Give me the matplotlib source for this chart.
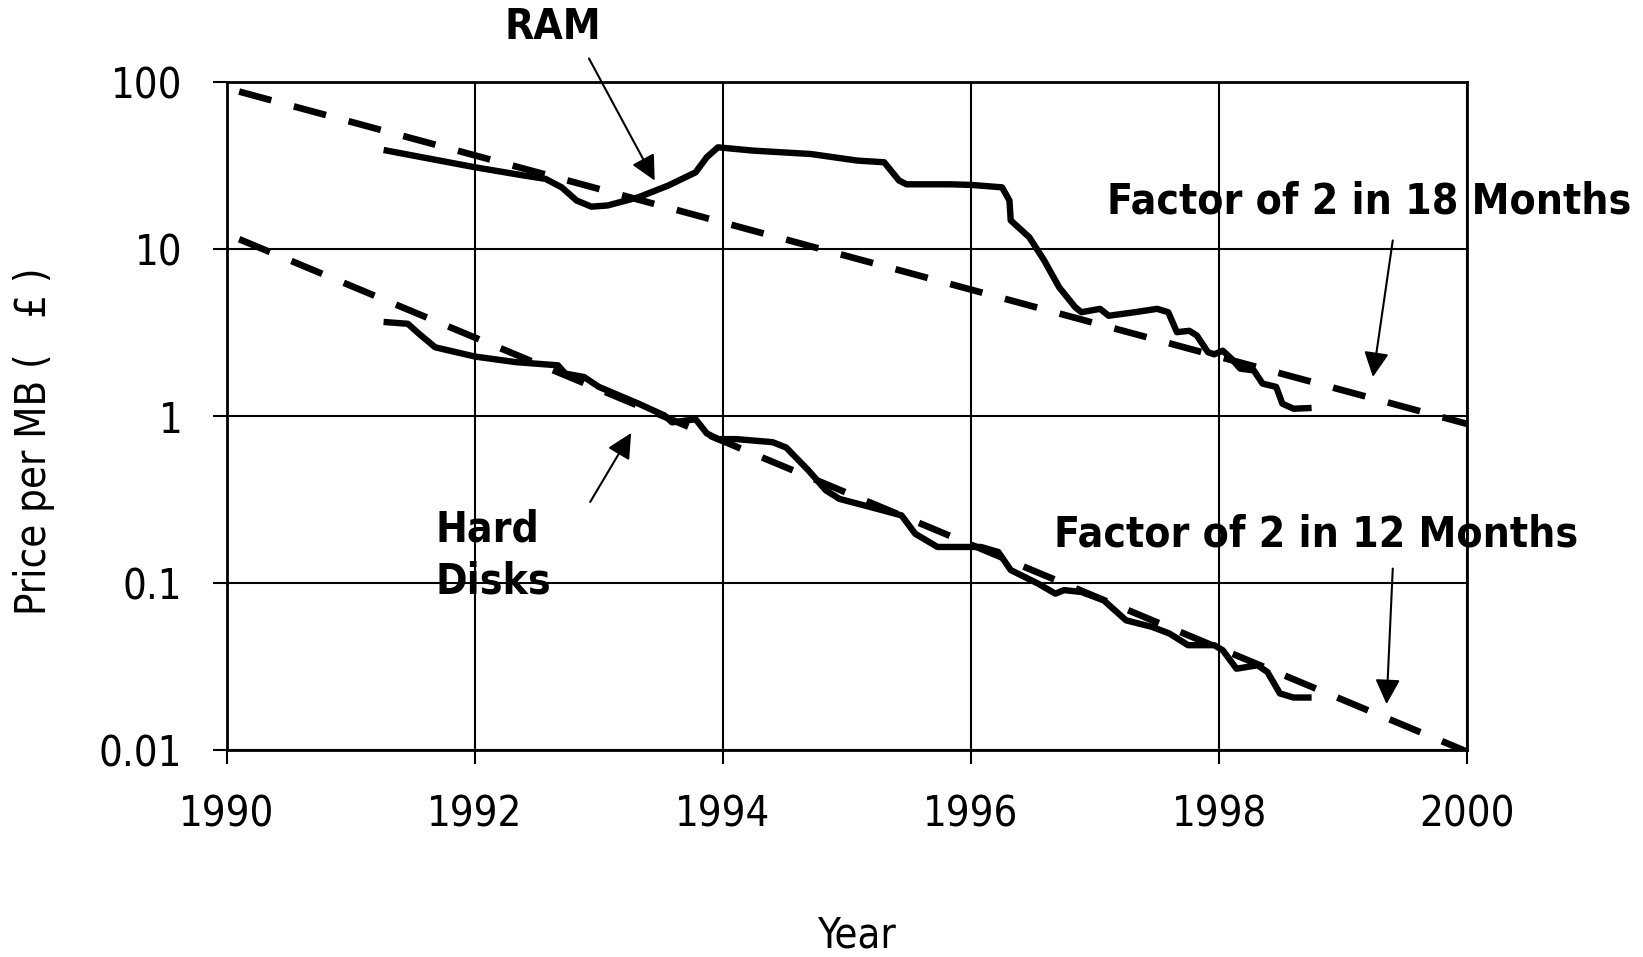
import matplotlib
matplotlib.use("Agg")
import matplotlib.pyplot as plt

# RAM price per MB (GBP)
ram_years = [1991.29, 1992.0, 1992.39, 1992.57, 1992.7, 1992.82, 1992.94, 1993.07,
             1993.32, 1993.56, 1993.78, 1993.87, 1993.96, 1994.24, 1994.71, 1995.08,
             1995.3, 1995.42, 1995.48, 1995.83, 1996.0, 1996.25, 1996.31, 1996.32,
             1996.47, 1996.59, 1996.71, 1996.84, 1996.89, 1997.04, 1997.11, 1997.32,
             1997.5, 1997.59, 1997.66, 1997.76, 1997.82, 1997.91, 1997.96, 1998.03,
             1998.1, 1998.17, 1998.28, 1998.35, 1998.46, 1998.51, 1998.6, 1998.72]
ram_price = [39.0, 31.0, 27.7, 26.4, 23.5, 19.6, 18.0, 18.3,
             20.5, 24.1, 28.9, 35.6, 40.8, 39.0, 37.2, 34.0,
             33.2, 25.8, 24.5, 24.5, 24.3, 23.5, 19.6, 14.9,
             11.8, 8.57, 5.93, 4.5, 4.2, 4.4, 4.0, 4.2,
             4.4, 4.2, 3.19, 3.25, 3.05, 2.42, 2.35, 2.47,
             2.21, 1.93, 1.88, 1.57, 1.50, 1.19, 1.11, 1.12]

# Hard disk price per MB (GBP)
hd_years = [1991.29, 1991.46, 1991.55, 1991.68, 1992.0, 1992.33, 1992.67, 1992.73,
            1992.88, 1993.0, 1993.32, 1993.53, 1993.59, 1993.78, 1993.87, 1993.96,
            1994.11, 1994.4, 1994.51, 1994.69, 1994.83, 1994.94, 1995.19, 1995.44,
            1995.55, 1995.73, 1996.08, 1996.22, 1996.32, 1996.54, 1996.68, 1996.75,
            1996.89, 1997.07, 1997.25, 1997.46, 1997.6, 1997.75, 1997.96, 1998.03,
            1998.14, 1998.31, 1998.39, 1998.49, 1998.6, 1998.72]
hd_price = [3.66, 3.58, 3.12, 2.59, 2.28, 2.11, 2.02, 1.80,
            1.72, 1.50, 1.19, 1.01, 0.92, 0.96, 0.79, 0.73,
            0.73, 0.70, 0.65, 0.474, 0.36, 0.32, 0.286, 0.255,
            0.198, 0.165, 0.165, 0.154, 0.12, 0.0996, 0.0867, 0.091,
            0.0887, 0.079, 0.060, 0.0548, 0.050, 0.0426, 0.0426, 0.0397,
            0.0308, 0.0323, 0.0294, 0.0219, 0.0207, 0.0207]

# trend lines
ram_trend_years = [1990.1, 2000]
ram_trend_price = [88, 0.9]
hd_trend_years = [1990.1, 2000]
hd_trend_price = [11.5, 0.0098]

year_ticks = [1990, 1992, 1994, 1996, 1998, 2000]
price_ticks = [0.01, 0.1, 1, 10, 100]
price_labels = ['0.01', '0.1', '1', '10', '100']

plt.rcParams['font.family'] = ['DejaVu Sans']
plt.rcParams['font.stretch'] = 'condensed'

fig = plt.figure(figsize=(16.43, 9.57), dpi=100)
ax = fig.add_axes([0.138, 0.216, 0.755, 0.698])

ax.plot(ram_trend_years, ram_trend_price, color='black', lw=4.8, dashes=(5, 3.5))
ax.plot(hd_trend_years, hd_trend_price, color='black', lw=4.8, dashes=(5, 3.5))
ax.plot(ram_years, ram_price, color='black', lw=4.6, solid_joinstyle='round')
ax.plot(hd_years, hd_price, color='black', lw=4.6, solid_joinstyle='round')

ax.set_yscale('log')
ax.set_xlim(1990, 2000)
ax.set_ylim(0.01, 100)
ax.set_xticks(year_ticks)
ax.set_xticklabels([str(y) for y in year_ticks])
ax.set_yticks(price_ticks)
ax.set_yticklabels(price_labels)
ax.minorticks_off()

ax.grid(True, color='black', lw=1.5)
ax.set_axisbelow(True)
for s in ax.spines.values():
    s.set_linewidth(2)
ax.tick_params(axis='both', length=10, width=1.5, labelsize=30)
ax.tick_params(axis='x', pad=21)
ax.tick_params(axis='y', pad=22)

fig.text(0.0204, 0.5386, 'Price per MB (   £ )', fontsize=30, rotation=90,
         ha='center', va='center')
fig.text(0.521, 0.0223, 'Year', fontsize=30, ha='center', va='center')

bold = dict(fontsize=30.5, fontweight='bold', color='black')
ax.text(1992.63, 215, 'RAM', ha='center', va='center', **bold)
ax.text(1997.1, 19.3, 'Factor of 2 in 18 Months', ha='left', va='center', **bold)
ax.text(1996.67, 0.195, 'Factor of 2 in 12 Months', ha='left', va='center', **bold)
ax.text(1991.68, 0.1466, 'Hard\nDisks', ha='left', va='center', linespacing=1.3, **bold)

arrow = dict(arrowstyle='-|>', color='black', lw=1.5, mutation_scale=38,
             shrinkA=0, shrinkB=0)
ax.annotate('', xy=(1993.45, 25.8), xytext=(1992.92, 139), arrowprops=arrow,
            annotation_clip=False)
ax.annotate('', xy=(1999.24, 1.72), xytext=(1999.4, 11.3), arrowprops=arrow)
ax.annotate('', xy=(1999.35, 0.0189), xytext=(1999.4, 0.1225), arrowprops=arrow)
ax.annotate('', xy=(1993.26, 0.794), xytext=(1992.93, 0.307), arrowprops=arrow)

fig.savefig('out.png', dpi=100)
